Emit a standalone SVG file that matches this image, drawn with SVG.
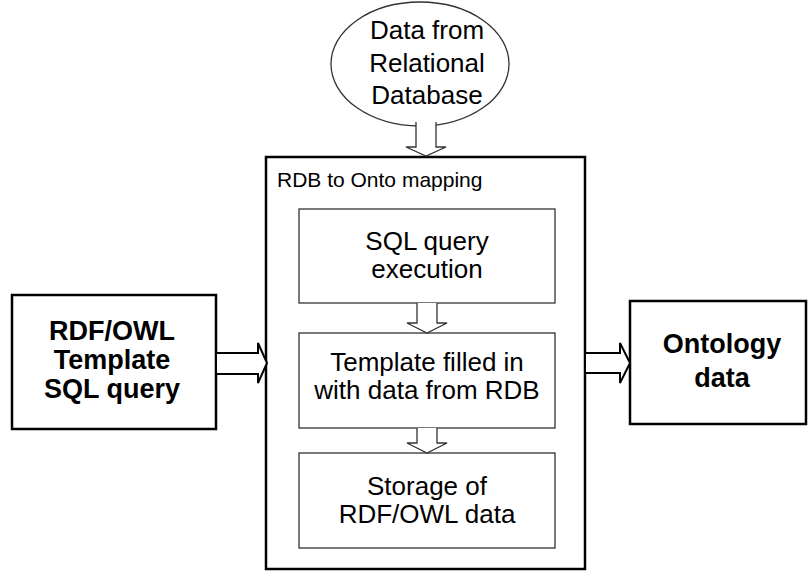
<svg xmlns="http://www.w3.org/2000/svg" width="810" height="571" viewBox="0 0 810 571">
<style>
.t{font-family:"Liberation Sans",Arial,sans-serif;fill:#000;text-anchor:middle}
.big{font-size:26px}
.bold{font-size:27px;font-weight:bold}
.thick{fill:#fff;stroke:#000;stroke-width:2.5}
.thin{fill:#fff;stroke:#333;stroke-width:1.3}
.harrow{fill:#fff;stroke:#333;stroke-width:1.3}
.barrow{fill:#fff;stroke:#000;stroke-width:2}
</style>
<rect width="810" height="571" fill="#fff"/>
<g id="db">
<ellipse cx="420" cy="64" rx="89" ry="62" class="thin"/>
<text class="t" font-size="26" x="427" y="39">Data from</text>
<text class="t" font-size="26" x="427" y="72">Relational</text>
<text class="t" font-size="26" x="427" y="104">Database</text>
</g>
<g id="mapping">
<rect x="266" y="157" width="319" height="412" class="thick"/>
<text class="t" font-size="21" x="277" y="187" style="text-anchor:start">RDB to Onto mapping</text>
</g>
<g id="sqlexec">
<rect x="299" y="209" width="256" height="94" class="thin"/>
<text class="t big" x="427" y="250">SQL query</text>
<text class="t big" x="427" y="278">execution</text>
</g>
<g id="template">
<rect x="299" y="333" width="256" height="95" class="thin"/>
<text class="t big" x="427" y="371">Template filled in</text>
<text class="t big" x="427" y="399">with data from RDB</text>
</g>
<g id="storage">
<rect x="299" y="453" width="256" height="95" class="thin"/>
<text class="t big" x="427" y="495">Storage of</text>
<text class="t big" x="427" y="523">RDF/OWL data</text>
</g>
<g id="input">
<rect x="12" y="295" width="204" height="134" class="thick"/>
<text class="t bold" x="112" y="340">RDF/OWL</text>
<text class="t bold" x="112" y="369">Template</text>
<text class="t bold" x="112" y="398">SQL query</text>
</g>
<g id="output">
<rect x="630" y="301" width="176" height="123" class="thick"/>
<text class="t bold" x="722" y="353">Ontology</text>
<text class="t bold" x="722" y="387">data</text>
</g>
<g id="connectors">
<path class="harrow" d="M416,122 V147 H406 L426,156 L446,147 H436 V122"/>
<path class="harrow" d="M417,303 V323 H407 L427,333 L447,323 H437 V303"/>
<path class="harrow" d="M417,428 V443 H407 L427,453 L447,443 H437 V428"/>
<path class="barrow" d="M217,353 H258 V343 L267,363 L258,383 V374 H217"/>
<path class="barrow" d="M586,353 H620 V343 L630,363 L620,383 V373 H586"/>
</g>
</svg>
